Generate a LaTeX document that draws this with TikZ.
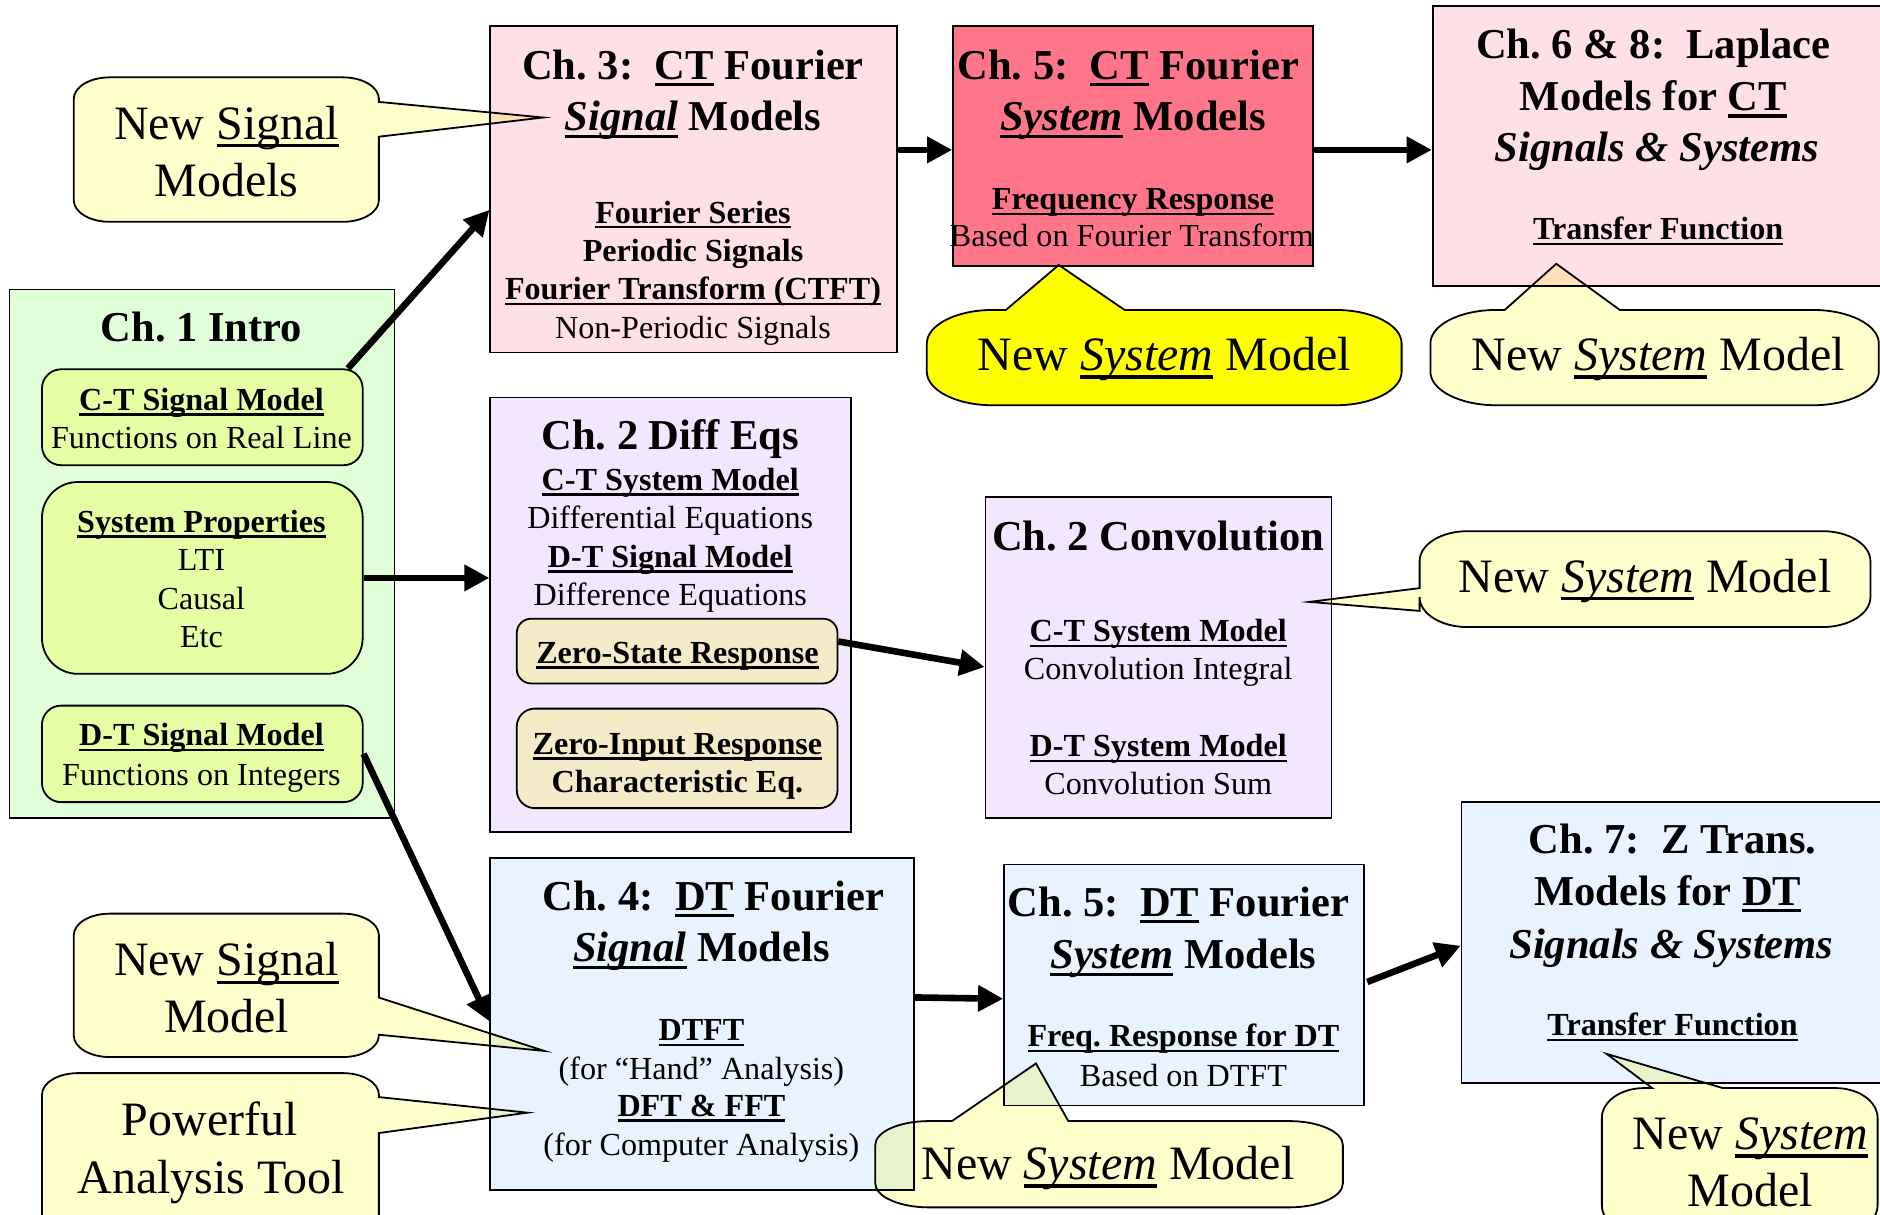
\documentclass[tikz,border=0pt]{standalone}
\usepackage{fontspec}
\setmainfont{Liberation Serif}
\usetikzlibrary{arrows.meta,calc}
\definecolor{pinkL}{RGB}{255,224,230}
\definecolor{redB}{RGB}{255,118,138}
\definecolor{greenL}{RGB}{224,255,216}
\definecolor{greenI}{RGB}{230,255,165}
\definecolor{lavL}{RGB}{243,230,255}
\definecolor{beigeL}{RGB}{245,235,200}
\definecolor{blueL}{RGB}{232,243,255}
\definecolor{bubY}{RGB}{255,255,204}
\definecolor{bubB}{RGB}{255,255,0}
\newcommand\undl[1]{\leavevmode\setbox0=\hbox{#1}\rlap{\rule[-0.17em]{\wd0}{0.075em}}\box0\relax}
% bubble path: x1 y1 x2 y2 rx ry topfrag rightfrag leftfrag
\newcommand\bubpath[9]{(#1+#5,#2) #7 -- (#3-#5,#2)
 .. controls (#3-0.4477*#5,#2) and (#3,#2+0.4477*#6) .. (#3,#2+#6)
 #8 -- (#3,#4-#6)
 .. controls (#3,#4-0.4477*#6) and (#3-0.4477*#5,#4) .. (#3-#5,#4)
 -- (#1+#5,#4)
 .. controls (#1+0.4477*#5,#4) and (#1,#4-0.4477*#6) .. (#1,#4-#6)
 #9 -- (#1,#2+#6)
 .. controls (#1,#2+0.4477*#6) and (#1+0.4477*#5,#2) .. (#1+#5,#2) -- cycle}
\begin{document}
\begin{tikzpicture}[x=1pt,y=-1pt,
 box/.style={draw=black, line width=1.5pt, rectangle, inner sep=0pt},
 ttl/.style={anchor=base, inner sep=0pt, font=\fontsize{35.5}{43}\selectfont\bfseries\frenchspacing},
 sub/.style={anchor=base, inner sep=0pt, font=\fontsize{26.8}{32}\selectfont\frenchspacing},
 subb/.style={anchor=base, inner sep=0pt, font=\fontsize{26.8}{32}\selectfont\bfseries\frenchspacing},
 bt/.style={anchor=base, inner sep=0pt, font=\fontsize{40}{48}\selectfont\frenchspacing},
 arr/.style={line width=5.5pt, -{Triangle[length=21pt,width=21pt]}},
 bub/.style={draw=black, line width=1.5pt, fill=bubY}]
\useasboundingbox (0,0) rectangle (1568,1013);
\clip (0,0) rectangle (1568,1013);
\fill[white] (0,0) rectangle (1568,1013);

% ---- boxes
\node[box, fill=pinkL, minimum width=339pt, minimum height=272pt] (ch3) at (578.5,158) {};
\node[box, fill=redB, minimum width=300pt, minimum height=200.5pt] (ch5c) at (945,121.75) {};
\node[box, fill=pinkL, minimum width=405pt, minimum height=233.5pt] (ch6) at (1397.5,121.75) {};
\node[box, fill=greenL, minimum width=321pt, minimum height=440.5pt] (ch1) at (168.5,461.75) {};
\node[box, fill=greenI, rounded corners=16pt, minimum width=267.5pt, minimum height=80pt] (ctsig) at (168.75,348) {};
\node[box, fill=greenI, rounded corners=30pt, minimum width=267.5pt, minimum height=160pt] (sysp) at (168.75,482) {};
\node[box, fill=greenI, rounded corners=16pt, minimum width=267.5pt, minimum height=80.5pt] (dtsig) at (168.75,628.75) {};
\node[box, fill=lavL, minimum width=301pt, minimum height=362.5pt] (ch2) at (559.5,512.75) {};
\node[box, fill=beigeL, rounded corners=12pt, minimum width=267.5pt, minimum height=54pt] (zs) at (564.75,543) {};
\node[box, fill=beigeL, rounded corners=15pt, minimum width=267.5pt, minimum height=83pt] (zi) at (564.75,632.5) {};
\node[box, fill=lavL, minimum width=288.5pt, minimum height=267.4pt] (conv) at (966.25,548.3) {};
\node[box, fill=blueL, minimum width=353.5pt, minimum height=277.2pt] (ch4) at (585.75,853.9) {};
\node[box, fill=blueL, minimum width=300.1pt, minimum height=201pt] (ch5d) at (987.55,821.5) {};
\node[box, fill=blueL, minimum width=381pt, minimum height=234.4pt] (ch7) at (1409.5,785.8) {};

% ---- callout bubbles
\begin{scope}[blend mode=multiply]
\draw[bub] \bubpath{61.5}{64.5}{316}{185}{30}{18}{}{-- (316,85) -- (453,98) -- (316,114)}{};
\draw[bub, fill=bubB] \bubpath{773}{258.5}{1169}{338}{55}{28}{-- (839,258.5) -- (883,221) -- (938,258.5)}{}{};
\draw[bub] \bubpath{1193}{258.5}{1567}{338}{55}{28}{-- (1255,258.5) -- (1298,220) -- (1351,258.5)}{}{};
\draw[bub] \bubpath{1184}{443}{1560}{523}{40}{25}{}{}{-- (1184,509.5) -- (1092,502) -- (1184,490.5)};
\draw[bub] \bubpath{61.5}{762}{316}{881.6}{30}{18}{}{-- (316,832) -- (454,876.5) -- (316,863)}{};
\draw[bub] \bubpath{35}{895}{316}{1040}{30}{18}{}{-- (316,915) -- (440,928) -- (316,945)}{};
\draw[bub] \bubpath{730}{935}{1120}{1007}{45}{20}{-- (794,935) -- (864,887) -- (891,935)}{}{};
\draw[bub] \bubpath{1336}{907.5}{1566}{1030}{35}{25}{-- (1378,907.5) -- (1340,879) -- (1437,907.5)}{}{};
\end{scope}

% ---- arrows
\draw[arr] ($(ctsig.north east)+(-13,0)$) -- ($(ch3.west)+(0,17)$);
\draw[arr] ($(ch3.east)+(0,-33)$) -- ($(ch5c.west)+(0,3.25)$);
\draw[arr] ($(ch5c.east)+(0,3.25)$) -- ($(ch6.west)+(0,3.25)$);
\draw[arr] (sysp.east) -- (sysp.east -| ch2.west);
\draw[arr] ($(zs.east)+(0,-8)$) -- ($(conv.west)+(0,8)$);
\draw[arr] (dtsig.east) -- ($(ch4.west)+(0,-2)$);
\draw[arr] ($(ch4.east)+(0,-22)$) -- ($(ch5d.west)+(0,11.5)$);
\draw[arr] ($(ch5d.east)+(2,-2.5)$) -- ($(ch7.west)+(0,3)$);

% ---- texts: Ch.3
\node[ttl] (c3a) at (578,66) {Ch. 3:~ \undl{CT} Fourier};
\node[ttl] (c3b) at (578,109) {\undl{\textit{Signal}} Models};
\node[subb] (c3c) at (578,186) {\undl{Fourier Series}};
\node[subb] (c3d) at (578,218) {Periodic Signals};
\node[subb] (c3e) at (578,250) {\undl{Fourier Transform (CTFT)}};
\node[sub] (c3f) at (578,282) {Non-Periodic Signals};
% Ch.5 CT
\node[ttl] (c5a) at (941,66) {Ch. 5:~ \undl{CT} Fourier};
\node[ttl] (c5b) at (945,109) {\undl{\textit{System}} Models};
\node[subb] (c5c) at (945,175) {\undl{Frequency Response}};
\node[sub] (c5d) at (944,206) {Based on Fourier Transform};
% Ch.6
\node[ttl] (c6a) at (1379,49) {Ch. 6 \& 8:~ Laplace};
\node[ttl] (c6b) at (1379,92) {Models for \undl{CT}};
\node[ttl] (c6c) at (1382,135) {\textit{Signals \& Systems}};
\node[subb] (c6d) at (1383,200) {\undl{Transfer Function}};
% Ch.1
\node[ttl] (c1a) at (168,285) {Ch. 1 Intro};
\node[subb] (c1b) at (168,342) {\undl{C-T Signal Model}};
\node[sub] (c1c) at (168,374) {Functions on Real Line};
\node[subb] (c1d) at (168,444) {\undl{System Properties}};
\node[sub] (c1e) at (168,476) {LTI};
\node[sub] (c1f) at (168,508) {Causal};
\node[sub] (c1g) at (168,540) {Etc};
\node[subb] (c1h) at (168,622) {\undl{D-T Signal Model}};
\node[sub] (c1i) at (168,655) {Functions on Integers};
% Ch.2 Diff Eqs
\node[ttl] (c2a) at (559,375) {Ch. 2 Diff Eqs};
\node[subb] (c2b) at (559,409) {\undl{C-T System Model}};
\node[sub] (c2c) at (559,441) {Differential Equations};
\node[subb] (c2d) at (559,473) {\undl{D-T Signal Model}};
\node[sub] (c2e) at (559,505) {Difference Equations};
\node[subb] (c2f) at (565,553) {\undl{Zero-State Response}};
\node[subb] (c2g) at (565,629) {\undl{Zero-Input Response}};
\node[subb] (c2h) at (565,661) {Characteristic Eq.};
% Ch.2 Convolution
\node[ttl] (cva) at (966,459) {Ch. 2 Convolution};
\node[subb] (cvb) at (966,535) {\undl{C-T System Model}};
\node[sub] (cvc) at (966,567) {Convolution Integral};
\node[subb] (cvd) at (966,631) {\undl{D-T System Model}};
\node[sub] (cve) at (966,663) {Convolution Sum};
% Ch.4
\node[ttl] (c4a) at (595,759) {Ch. 4:~ \undl{DT} Fourier};
\node[ttl] (c4b) at (585,802) {\undl{\textit{Signal}} Models};
\node[subb] (c4c) at (585,868) {\undl{DTFT}};
\node[sub] (c4d) at (585,900) {(for “Hand” Analysis)};
\node[subb] (c4e) at (585,931) {\undl{DFT \& FFT}};
\node[sub] (c4f) at (585,964) {(for Computer Analysis)};
% Ch.5 DT
\node[ttl] (d5a) at (983,764) {Ch. 5:~ \undl{DT} Fourier};
\node[ttl] (d5b) at (987,808) {\undl{\textit{System}} Models};
\node[subb] (d5c) at (987,873) {\undl{Freq. Response for DT}};
\node[sub] (d5d) at (987,906) {Based on DTFT};
% Ch.7
\node[ttl] (c7a) at (1395,712) {Ch. 7:~ Z Trans.};
\node[ttl] (c7b) at (1391,755) {Models for \undl{DT}};
\node[ttl] (c7c) at (1394,799) {\textit{Signals \& Systems}};
\node[subb] (c7d) at (1395,864) {\undl{Transfer Function}};

% ---- bubble texts
\node[bt] (b1a) at (189,116) {New \undl{Signal}};
\node[bt] (b1b) at (189,164) {Models};
\node[bt] (b2a) at (971,309) {New \undl{\textit{System}} Model};
\node[bt] (b3a) at (1383,309) {New \undl{\textit{System}} Model};
\node[bt] (b4a) at (1372,494) {New \undl{\textit{System}} Model};
\node[bt] (b5a) at (189,814) {New \undl{Signal}};
\node[bt] (b5b) at (189,861) {Model};
\node[bt] (b6a) at (175,947) {Powerful};
\node[bt] (b6b) at (176,995) {Analysis Tool};
\node[bt] (b7a) at (924,984) {New \undl{\textit{System}} Model};
\node[bt] (b8a) at (1460,959) {New \undl{\textit{System}}};
\node[bt] (b8b) at (1460,1006) {Model};
\end{tikzpicture}
\end{document}
